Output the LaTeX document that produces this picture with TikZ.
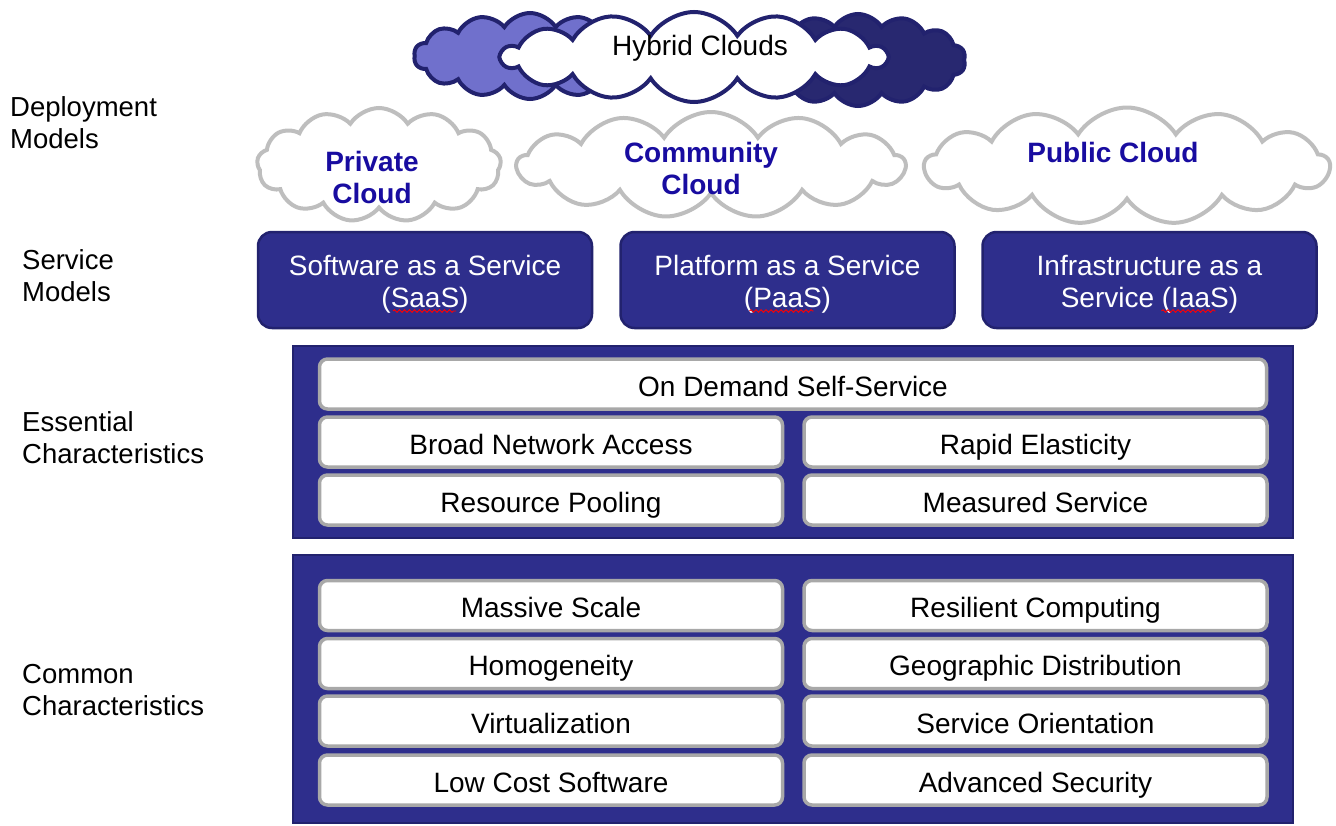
\documentclass[tikz,border=0pt]{standalone}
\usepackage{fontspec}
\setmainfont{Liberation Sans}
\usetikzlibrary{shapes.symbols,decorations.pathmorphing,calc}
\definecolor{navy}{RGB}{46,46,140}
\definecolor{navydark}{RGB}{34,34,110}
\definecolor{cloudnavy}{RGB}{40,40,112}
\definecolor{cloudlight}{RGB}{112,112,204}
\definecolor{cloudgray}{RGB}{190,190,190}
\definecolor{boxgray}{RGB}{168,168,168}
\definecolor{cloudtext}{RGB}{24,12,160}
\begin{document}
\begin{tikzpicture}[x=1pt,y=-1pt,
  lbl/.style={anchor=north west, align=left, inner sep=0pt, font=\fontsize{27.5}{32}\selectfont},
  svc/.style={rounded corners=14pt, fill=navy, draw=navydark, line width=2.5pt, text=white, align=center,
    inner sep=0pt, minimum width=334pt, minimum height=96pt, text height=54pt, text depth=0pt,
    font=\fontsize{28}{32}\selectfont},
  panel/.style={fill=navy, draw=navydark, line width=2.5pt, inner sep=0pt},
  chr/.style={fill=white, draw=boxgray, line width=3.5pt, rounded corners=8pt, inner sep=0pt,
    minimum height=50pt, text height=24pt, text depth=0pt, font=\fontsize{28}{32}\selectfont},
  full/.style={chr, minimum width=947pt},
  half/.style={chr, minimum width=463pt},
  gcloud/.style={cloud, cloud ignores aspect, cloud puffs=13, cloud puff arc=115, draw=cloudgray, line width=4pt, fill=white, inner sep=0pt},
  hcloud/.style={cloud, cloud ignores aspect, cloud puffs=14, cloud puff arc=115, draw=navydark, line width=4pt, inner sep=0pt},
  ctext/.style={font=\bfseries\fontsize{28}{32}\selectfont, text=cloudtext, align=center, inner sep=0pt},
  squig/.style={draw=red, line width=0.9pt, decorate, decoration={snake, amplitude=1.3pt, segment length=5pt}}
]
\fill[white] (0,0) rectangle (1336,825);
\useasboundingbox (0,0) rectangle (1336,825);

% left labels
\node[lbl] (ldep) at (10,96) {Deployment\\Models};
\node[lbl] (lsvc) at (22,249) {Service\\Models};
\node[lbl] (less) at (22,411) {Essential\\Characteristics};
\node[lbl] (lcom) at (22,664) {Common\\Characteristics};

% hybrid clouds
\node[hcloud, fill=cloudlight, minimum width=232pt, minimum height=86pt] (hleft) at (530,56) {};
\node[hcloud, fill=cloudnavy, minimum width=215pt, minimum height=92pt] (hright) at (858,60) {};
\node[hcloud, fill=white, minimum width=385pt, minimum height=90pt] (hmid) at (694,57) {};
\node[font=\fontsize{28}{32}\selectfont, inner sep=0pt] (htext) at (700,48) {Hybrid Clouds};

% deployment clouds
\node[gcloud, minimum width=244pt, minimum height=114pt] (priv) at (379,165) {};
\node[ctext] (privt) at (372,177) {Private\\Cloud};
\node[gcloud, minimum width=388pt, minimum height=106pt] (comm) at (711,165) {};
\node[ctext] (commt) at (701,168) {Community\\Cloud};
\node[gcloud, minimum width=405pt, minimum height=117pt] (pub) at (1127,166) {};
\node[ctext] (pubt) at (1113,152) {Public Cloud};

% service models
\node[svc] (saas) at (425,280) {Software as a Service\\(SaaS)};
\node[svc] (paas) at (787.5,280) {Platform as a Service\\(PaaS)};
\node[svc] (iaas) at (1149.5,280) {Infrastructure as a\\Service (IaaS)};
\draw[squig] ($(saas.center)+(-32,31)$) -- ($(saas.center)+(31,31)$);
\draw[squig] ($(paas.center)+(-38,31)$) -- ($(paas.center)+(26,31)$);
\draw[squig] ($(iaas.center)+(12,31)$) -- ($(iaas.center)+(66,31)$);

% essential characteristics
\node[panel, minimum width=1000pt, minimum height=192pt] (ess) at (793,442) {};
\node[full] (e1) at (793,384) {On Demand Self-Service};
\node[half] (e2) at (551,442) {Broad Network Access};
\node[half] (e3) at (1035.5,442) {Rapid Elasticity};
\node[half] (e4) at (551,500) {Resource Pooling};
\node[half] (e5) at (1035.5,500) {Measured Service};

% common characteristics
\node[panel, minimum width=1000pt, minimum height=268pt] (com) at (793,689) {};
\node[half] (c1) at (551,605.5) {Massive Scale};
\node[half] (c2) at (1035.5,605.5) {Resilient Computing};
\node[half] (c3) at (551,663.5) {Homogeneity};
\node[half] (c4) at (1035.5,663.5) {Geographic Distribution};
\node[half] (c5) at (551,721) {Virtualization};
\node[half] (c6) at (1035.5,721) {Service Orientation};
\node[half] (c7) at (551,780) {Low Cost Software};
\node[half] (c8) at (1035.5,780) {Advanced Security};
\end{tikzpicture}
\end{document}
